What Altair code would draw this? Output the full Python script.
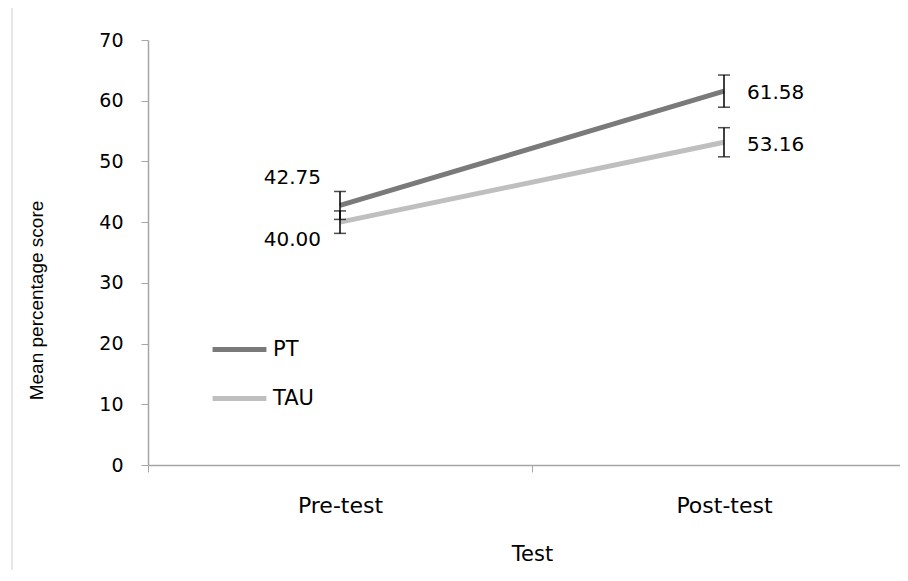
import altair as alt
import pandas as pd

tests = ["Pre-test", "Post-test"]
groups = ["PT", "TAU"]
pt_means = [42.75, 61.58]
tau_means = [40.00, 53.16]
pt_err = [2.3, 2.65]
tau_err = [1.85, 2.4]
group_colors = ["#7a7a7a", "#bfbfbf"]

rows = []
for g, means, errs in [("PT", pt_means, pt_err), ("TAU", tau_means, tau_err)]:
    for t, m, e in zip(tests, means, errs):
        rows.append({"test": t, "group": g, "mean": m, "lo": m - e, "hi": m + e})
df = pd.DataFrame(rows)

W, H = 752, 425
Y_TITLE = "Mean percentage score"

x_scale = alt.Scale(type="band", paddingInner=0, paddingOuter=0, range=[0, 768])

x_enc = alt.X(
    "test:N",
    sort=tests,
    scale=x_scale,
    axis=alt.Axis(
        title="Test",
        labelAngle=0,
        tickBand="extent",
        tickSize=7,
        labelPadding=23,
        titlePadding=27,
        titleX=384,
        labelFont="DejaVu Sans",
        labelFontSize=22,
        titleFont="DejaVu Sans",
        titleFontSize=21,
        titleFontWeight="normal",
        labelColor="#000000",
        titleColor="#000000",
        domainColor="#a6a6a6",
        tickColor="#a6a6a6",
        domainWidth=1.5,
    ),
)

y_scale = alt.Scale(domain=[0, 70], nice=False)
y_axis = alt.Axis(
    title=Y_TITLE,
    values=[0, 10, 20, 30, 40, 50, 60, 70],
    grid=False,
    tickSize=7,
    labelPadding=18,
    titlePadding=52,
    titleY=260,
    labelFont="DejaVu Sans",
    labelFontSize=19,
    titleFont="Liberation Sans",
    titleFontSize=19,
    titleFontWeight="normal",
    labelColor="#000000",
    titleColor="#000000",
    domainColor="#a6a6a6",
    tickColor="#a6a6a6",
    domainWidth=1.5,
)

base = alt.Chart(df)

lines = base.mark_line(strokeWidth=5).encode(
    x=x_enc,
    y=alt.Y("mean:Q", scale=y_scale, axis=y_axis),
    color=alt.Color(
        "group:N",
        scale=alt.Scale(domain=groups, range=group_colors),
        legend=alt.Legend(
            title=None,
            orient="none",
            legendX=62,
            legendY=280,
            symbolType="stroke",
            symbolSize=2900,
            symbolStrokeWidth=5,
            labelFont="DejaVu Sans",
            labelFontSize=21,
            labelColor="#000000",
            labelOffset=4,
            rowPadding=9,
        ),
    ),
)

errbars = base.mark_errorbar(ticks=alt.MarkConfig(size=12), color="#000000", thickness=1.5).encode(
    x=alt.X("test:N", sort=tests, scale=x_scale),
    y=alt.Y("lo:Q", scale=y_scale, title=Y_TITLE),
    y2="hi:Q",
)


def label_layer(test, group, align, dx, dy):
    return (
        base.transform_filter(
            (alt.datum.test == test) & (alt.datum.group == group)
        )
        .mark_text(
            align=align,
            baseline="middle",
            dx=dx,
            dy=dy,
            font="DejaVu Sans",
            fontSize=20,
            color="#000000",
        )
        .encode(
            x=alt.X("test:N", sort=tests, scale=x_scale),
            y=alt.Y("mean:Q", scale=y_scale, title=Y_TITLE),
            text=alt.Text("mean:Q", format=".2f"),
        )
    )


labels = [
    label_layer("Pre-test", "PT", "right", -19, -27),
    label_layer("Pre-test", "TAU", "right", -19, 18),
    label_layer("Post-test", "PT", "left", 23, 2),
    label_layer("Post-test", "TAU", "left", 23, 3),
]

frame = alt.Chart(pd.DataFrame({"k": [0]})).mark_rule(color="#d0d0d0", strokeWidth=1).encode(
    x=alt.value(-136),
    y=alt.value(-32),
    y2=alt.value(530),
)

chart = (
    alt.layer(frame, lines, errbars, *labels)
    .properties(
        width=W,
        height=H,
        autosize=alt.AutoSizeParams(type="none"),
        padding={"left": 140, "top": 32, "right": 0, "bottom": 108},
    )
    .configure_view(stroke=None)
)

chart.save("out.html", embed_options={"renderer": "svg", "actions": False})
